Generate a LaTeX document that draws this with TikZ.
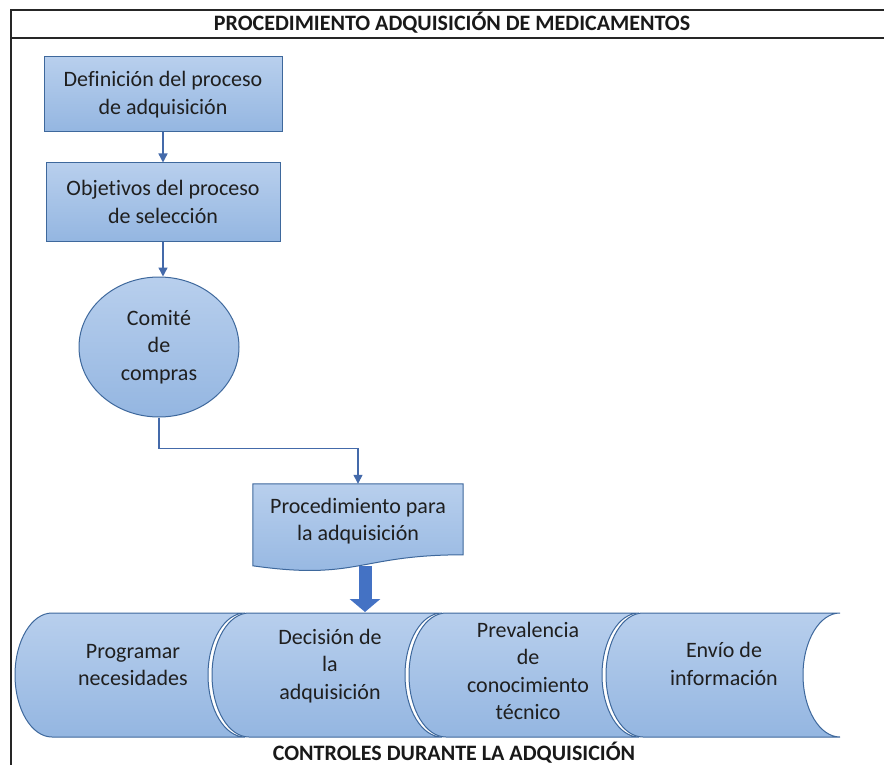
\documentclass[tikz,border=0pt]{standalone}
\usepackage{fontspec}
\setmainfont{Carlito}[Ligatures=NoCommon]
\usepackage{tikz}
\usetikzlibrary{arrows.meta}
\usetikzlibrary{shapes.geometric}
\usetikzlibrary{backgrounds}
\usetikzlibrary{calc}
\definecolor{boxtop}{RGB}{184,207,237}
\definecolor{boxbot}{RGB}{148,182,225}
\definecolor{boxline}{RGB}{62,104,156}
\definecolor{conline}{RGB}{68,106,170}
\definecolor{bigblue}{RGB}{68,114,196}
\tikzset{t/.style={font=\fontsize{22}{27.5}\selectfont, align=center, text=black!88}}
\tikzset{hd/.style={font=\fontsize{22}{22}\selectfont\bfseries, text=black!90}}
\tikzset{blk/.style={draw=boxline, line width=1pt, top color=boxtop, bottom color=boxbot}}
\tikzset{flow/.style={draw=conline, line width=1.4pt, -{Triangle[width=9pt,length=9pt]}}}
\tikzset{bigarr/.style={draw=bigblue, line width=13pt, -{Triangle[width=30pt,length=13pt]}}}

\begin{document}
\begin{tikzpicture}[x=1pt,y=-1pt]
    \useasboundingbox (0,0) rectangle (884,765);
    % frame and title
    \draw[line width=1.3pt, black!85] (884,10) -- (11,10) -- (11,765);
    \draw[line width=1.3pt, black!85] (11,38) -- (884,38);
    \node[hd, anchor=base] (title) at (452,31) {PROCEDIMIENTO ADQUISICIÓN DE MEDICAMENTOS};

    \node[blk, t, minimum width=238pt, minimum height=75pt] (def) at (163,94.5) {Definición del proceso\\de adquisición};
    \node[blk, t, minimum width=234pt, minimum height=78pt] (obj) at (163,202) {Objetivos del proceso\\de selección};
    \node[blk, t, ellipse, inner sep=0pt, minimum width=160pt, minimum height=140pt] (com) at (159,347) {Comité\\de\\compras};
    \node[t, minimum width=210pt, minimum height=74pt] (adq) at (358,521) {Procedimiento para\\la adquisición};
    \begin{scope}[on background layer]
      \draw[blk] (adq.north west) -- (adq.north east) -- ($(adq.north east)+(0,71)$)
        .. controls ($(adq.north)+(0,71)$) and ($(adq.north)+(0,97)$) .. ($(adq.north west)+(0,82)$) -- cycle;
    \end{scope}

    \draw[flow] (def.south) -- (obj.north);
    \draw[flow] (obj.south) -- (obj.south |- com.north);
    \draw[flow] (com.south) -- ++(0,31) -| (adq.north);

    % controls band
    \foreach \L/\R in {52/245, 249/442, 446/639, 643/840}
      \draw[blk] (\L,613) -- (\R,613)
        .. controls ({\R-20.4},613) and ({\R-37},640.8) .. ({\R-37},675)
        .. controls ({\R-37},709.2) and ({\R-20.4},737) .. (\R,737) -- (\L,737)
        .. controls ({\L-20.4},737) and ({\L-37},709.2) .. ({\L-37},675)
        .. controls ({\L-37},640.8) and ({\L-20.4},613) .. (\L,613) -- cycle;
    \coordinate (wave) at ($(adq.north)+(7,82)$);
    \coordinate (band) at (365,612);
    \draw[bigarr] (wave) -- (band);

    \node[t] (prog) at (133,665) {Programar\\necesidades};
    \node[t] (dec) at (330,666) {Decisión de\\la\\adquisición};
    \node[t] (prev) at (528,671) {Prevalencia\\de\\conocimiento\\técnico};
    \node[t] (env) at (724,664) {Envío de\\información};
    \node[hd, anchor=base] (ctrl) at (454,760) {CONTROLES DURANTE LA ADQUISICIÓN};
\end{tikzpicture}
\end{document}
